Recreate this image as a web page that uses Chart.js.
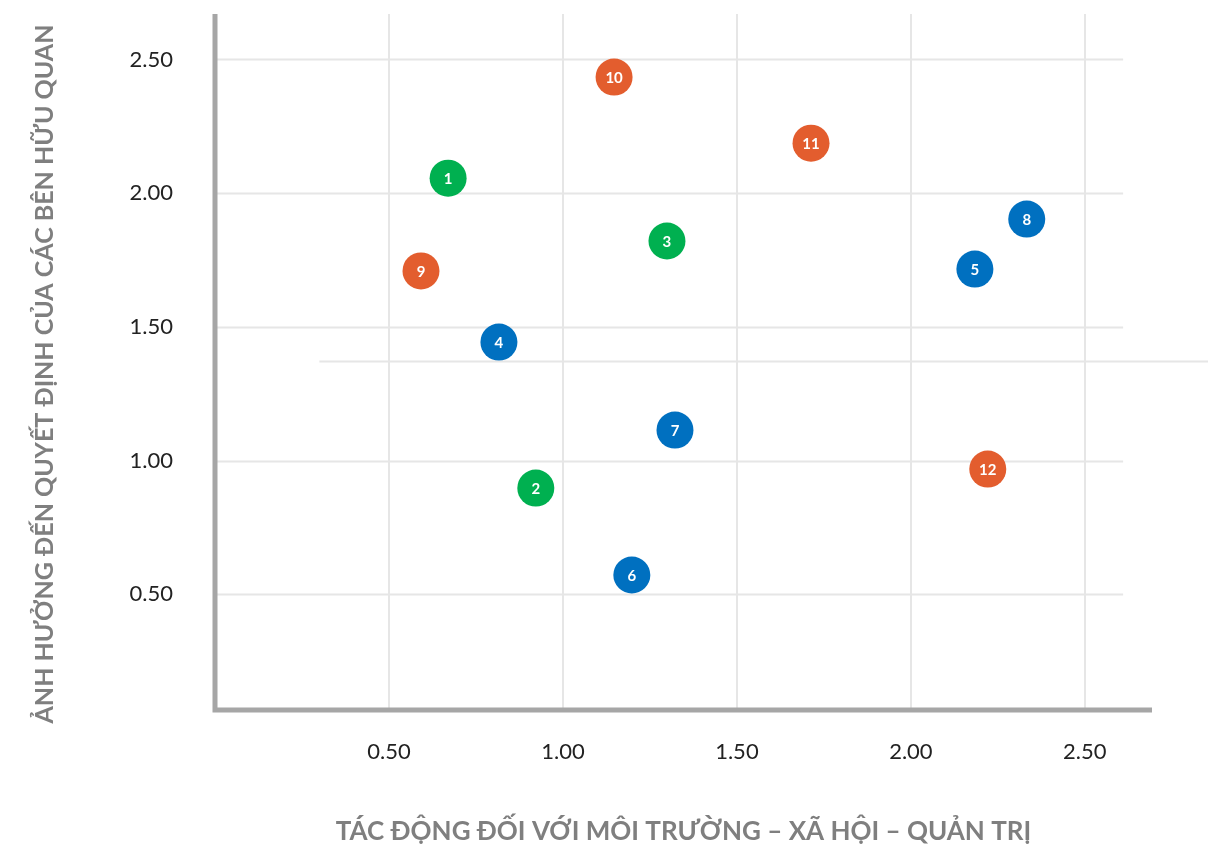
<!DOCTYPE html>
<html>
<head>
<meta charset="utf-8">
<script src="https://cdn.jsdelivr.net/npm/chart.js@4.4.1/dist/chart.umd.min.js"></script>
<style>
  html, body { margin: 0; padding: 0; background: #fff; }
  #wrap { width: 1208px; height: 852px; }
</style>
</head>
<body>
<div id="wrap"><canvas id="chart"></canvas></div>
<script>
const pointIds = [1, 2, 3, 4, 5, 6, 7, 8, 9, 10, 11, 12];
const xValues = [0.67, 0.922, 1.299, 0.816, 2.184, 1.198, 1.322, 2.333, 0.592, 1.147, 1.713, 2.221];
const yValues = [2.056, 0.897, 1.821, 1.443, 1.716, 0.572, 1.114, 1.903, 1.709, 2.434, 2.187, 0.968];
const pointGroups = ["green", "green", "green", "blue", "blue", "blue", "blue", "blue", "orange", "orange", "orange", "orange"];

const groupNames = ["green", "blue", "orange"];
const groupColors = { green: "#00b050", blue: "#0070c0", orange: "#e35d2e" };

const tickValues = [0.5, 1.0, 1.5, 2.0, 2.5];
const xTitle = "TÁC ĐỘNG ĐỐI VỚI MÔI TRƯỜNG – XÃ HỘI – QUẢN TRỊ";
const yTitle = "ẢNH HƯỞNG ĐẾN QUYẾT ĐỊNH CỦA CÁC BÊN HỮU QUAN";

// horizontal grid stops short of the x axis end; one stray light line
const gridEndX = 2.61;
const strayLine = { y: 1.372, xFrom: 0.30 };

const datasets = groupNames.map((g) => {
  const data = [];
  pointIds.forEach((id, i) => {
    if (pointGroups[i] === g) data.push({ x: xValues[i], y: yValues[i], id: id });
  });
  return {
    label: g,
    data: data,
    backgroundColor: groupColors[g],
    borderColor: groupColors[g],
    borderWidth: 0,
    pointRadius: 18.5,
    pointHoverRadius: 18.5,
  };
});

const axisPlugin = {
  id: "axisPlugin",
  beforeDatasetsDraw(chart) {
    const { ctx, chartArea, scales } = chart;
    const xs = scales.x, ys = scales.y;
    ctx.save();
    ctx.strokeStyle = "#e6e6e6";
    ctx.lineWidth = 2;
    const gx = xs.getPixelForValue(gridEndX);
    tickValues.forEach((v) => {
      const py = Math.round(ys.getPixelForValue(v)) + 0.5;
      ctx.beginPath();
      ctx.moveTo(chartArea.left, py);
      ctx.lineTo(gx, py);
      ctx.stroke();
    });
    const sy = Math.round(ys.getPixelForValue(strayLine.y)) + 0.5;
    ctx.beginPath();
    ctx.moveTo(xs.getPixelForValue(strayLine.xFrom), sy);
    ctx.lineTo(chart.width, sy);
    ctx.stroke();

    ctx.strokeStyle = "#a6a6a6";
    ctx.lineWidth = 5;
    ctx.lineCap = "butt";
    ctx.beginPath();
    ctx.moveTo(chartArea.left, chartArea.top);
    ctx.lineTo(chartArea.left, chartArea.bottom + 2.5);
    ctx.moveTo(chartArea.left - 2.5, chartArea.bottom);
    ctx.lineTo(chartArea.right, chartArea.bottom);
    ctx.stroke();

    // y title, centred a little below the plot centre as in the source
    ctx.save();
    ctx.translate(45, 374);
    ctx.rotate(-Math.PI / 2);
    ctx.fillStyle = "#7f7f7f";
    ctx.font = "bold 25px Lato";
    ctx.textAlign = "center";
    ctx.textBaseline = "middle";
    ctx.fillText(yTitle, 0, 0);
    ctx.restore();
    ctx.restore();
  },
  afterDatasetsDraw(chart) {
    const { ctx } = chart;
    ctx.save();
    ctx.fillStyle = "#ffffff";
    ctx.font = "bold 15px Lato";
    ctx.textAlign = "center";
    ctx.textBaseline = "middle";
    chart.data.datasets.forEach((ds, di) => {
      chart.getDatasetMeta(di).data.forEach((el, i) => {
        ctx.fillText(String(ds.data[i].id), el.x, el.y + 1);
      });
    });
    ctx.restore();
  },
};

new Chart(document.getElementById("chart"), {
  type: "scatter",
  data: { datasets: datasets },
  options: {
    responsive: true,
    maintainAspectRatio: false,
    animation: false,
    layout: { autoPadding: false, padding: { top: 14, right: 56, left: 0, bottom: 0 } },
    plugins: {
      legend: { display: false },
      tooltip: { enabled: false },
    },
    scales: {
      x: {
        type: "linear",
        min: 0,
        max: 2.693,
        afterBuildTicks: (scale) => {
          scale.ticks = tickValues.map((v) => ({ value: v }));
        },
        afterFit: (scale) => {
          scale.height = 142;
          scale.paddingLeft = 0;
          scale.paddingRight = 0;
        },
        grid: { color: "#e6e6e6", lineWidth: 2, drawTicks: false, tickLength: 0 },
        border: { display: false },
        ticks: {
          padding: 29,
          color: "#222222",
          font: { family: "Lato", size: 22 },
          callback: (v) => v.toFixed(2),
        },
        title: {
          display: true,
          text: xTitle,
          color: "#7f7f7f",
          font: { family: "Lato", size: 26, weight: "bold" },
          padding: { top: 0, bottom: 5 },
        },
      },
      y: {
        type: "linear",
        min: 0.067,
        max: 2.67,
        afterBuildTicks: (scale) => {
          scale.ticks = tickValues.map((v) => ({ value: v }));
        },
        afterFit: (scale) => {
          scale.width = 215;
          scale.paddingTop = 0;
          scale.paddingBottom = 0;
        },
        grid: { display: false, drawTicks: false, tickLength: 0 },
        border: { display: false },
        ticks: {
          padding: 42,
          color: "#222222",
          font: { family: "Lato", size: 22 },
          callback: (v) => v.toFixed(2),
        },
      },
    },
  },
  plugins: [axisPlugin],
});
</script>
</body>
</html>
